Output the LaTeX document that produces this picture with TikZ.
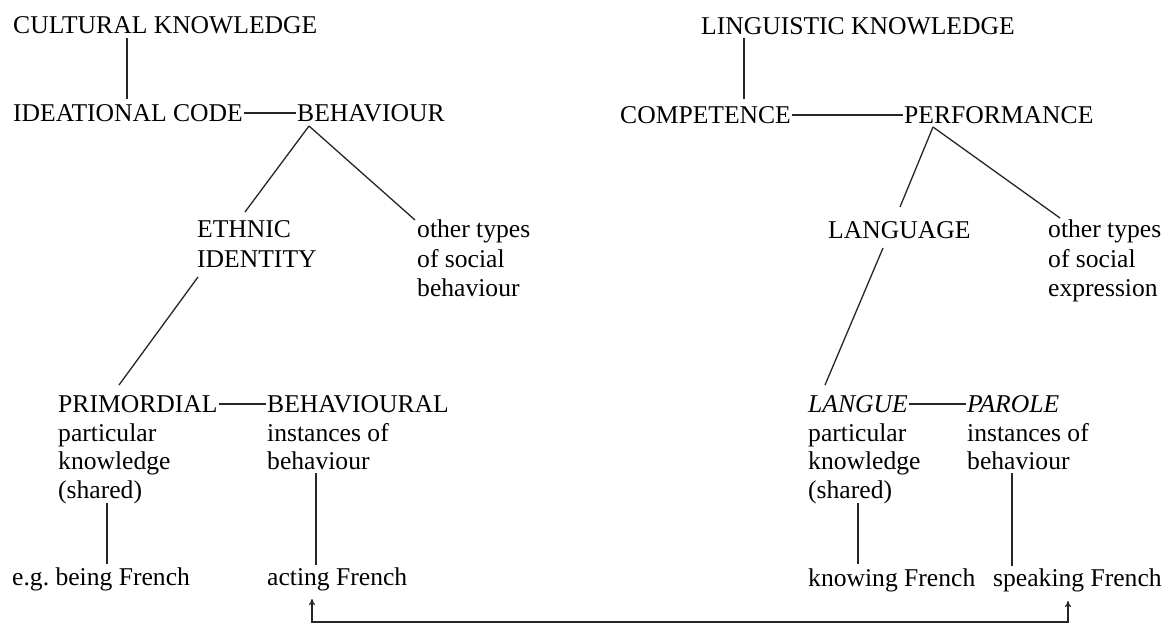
\documentclass[tikz,border=0pt]{standalone}
\usepackage{fontspec}
\setmainfont{Liberation Serif}
\usetikzlibrary{arrows.meta,calc}
\begin{document}
\begin{tikzpicture}[x=1pt,y=-1pt,
  lbl/.style={anchor=base west,inner sep=0pt,font=\fontsize{25.6}{30}\selectfont},
  ln/.style={line width=1.3pt,draw=black!85},
  arr/.style={line width=1.2pt,draw=black!85,{To[length=6pt,width=6pt]}-{To[length=6pt,width=6pt]}}]
\useasboundingbox (0,0) rectangle (1167,626);
\fill[white] (0,0) rectangle (1167,626);
% ---------- left tree ----------
\node[lbl] (ck) at (13,34) {CULTURAL KNOWLEDGE};
\node[lbl] (ic) at (13,121) {IDEATIONAL CODE};
\node[lbl] (beh) at (297,121) {BEHAVIOUR};
\node[lbl] (eth1) at (197,237) {ETHNIC};
\node[lbl] (eth2) at (197,267) {IDENTITY};
\node[lbl] (ot1) at (417,237) {other types};
\node[lbl] (ot2) at (417,267) {of social};
\node[lbl] (ot3) at (417,296) {behaviour};
\node[lbl] (pri) at (58,412) {PRIMORDIAL};
\node[lbl] (pk1) at (58,441) {particular};
\node[lbl] (pk2) at (58,469) {knowledge};
\node[lbl] (pk3) at (58,498) {(shared)};
\node[lbl] (bhl) at (267,412) {BEHAVIOURAL};
\node[lbl] (bi1) at (267,441) {instances of};
\node[lbl] (bi2) at (267,469) {behaviour};
\node[lbl] (eg) at (12,585) {e.g.\ being French};
\node[lbl] (act) at (267,585) {acting French};
% ---------- right tree ----------
\node[lbl] (lk) at (701,35) {LINGUISTIC KNOWLEDGE};
\node[lbl] (comp) at (620,123) {COMPETENCE};
\node[lbl] (perf) at (904,123) {PERFORMANCE};
\node[lbl] (lang) at (828,238) {LANGUAGE};
\node[lbl] (os1) at (1048,237) {other types};
\node[lbl] (os2) at (1048,267) {of social};
\node[lbl] (os3) at (1048,296) {expression};
\node[lbl] (lg) at (808,412) {\textit{LANGUE}};
\node[lbl] (lp1) at (808,441) {particular};
\node[lbl] (lp2) at (808,469) {knowledge};
\node[lbl] (lp3) at (808,498) {(shared)};
\node[lbl] (par) at (967,412) {\textit{PAROLE}};
\node[lbl] (pi1) at (967,441) {instances of};
\node[lbl] (pi2) at (967,469) {behaviour};
\node[lbl] (kf) at (808,586) {knowing French};
\node[lbl] (sf) at (993,586) {speaking French};
% ---------- connector end points ----------
\coordinate (ckB) at (127,38);   \coordinate (icT) at (127,99);
\coordinate (behA) at (309,126); \coordinate (ethT) at (245,212);
\coordinate (otT) at (415,220);
\coordinate (ethB) at (198,277); \coordinate (priT) at (119,385);
\coordinate (pkB) at (107,503);  \coordinate (egT) at (107,564);
\coordinate (biB) at (316,473);  \coordinate (actT) at (316,565);
\coordinate (lkB) at (744,38);   \coordinate (compT) at (744,99);
\coordinate (perfA) at (933,127); \coordinate (langT) at (900,207);
\coordinate (osT) at (1060,218);
\coordinate (langB) at (883,248); \coordinate (lgT) at (825,385);
\coordinate (lpB) at (858,503);  \coordinate (kfT) at (858,564);
\coordinate (piB) at (1012,473); \coordinate (sfT) at (1012,566);
\coordinate (actA) at (312,599); \coordinate (sfA) at (1068,601);
\coordinate (c1) at (312,622);   \coordinate (c2) at (1068,622);
% ---------- connectors ----------
\draw[ln] (ckB) -- (icT);
\draw[ln] ($(ic.base east)+(1,-8)$) -- ($(beh.base west)+(-1,-8)$);
\draw[ln] (behA) -- (ethT);
\draw[ln] (behA) -- (otT);
\draw[ln] (ethB) -- (priT);
\draw[ln] ($(pri.base east)+(1,-8)$) -- ($(bhl.base west)+(-1,-8)$);
\draw[ln] (pkB) -- (egT);
\draw[ln] (biB) -- (actT);
\draw[ln] (lkB) -- (compT);
\draw[ln] ($(comp.base east)+(1,-8)$) -- ($(perf.base west)+(-1,-8)$);
\draw[ln] (perfA) -- (langT);
\draw[ln] (perfA) -- (osT);
\draw[ln] (langB) -- (lgT);
\draw[ln] ($(lg.base east)+(1,-8)$) -- ($(par.base west)+(-1,-8)$);
\draw[ln] (lpB) -- (kfT);
\draw[ln] (piB) -- (sfT);
\draw[arr] (actA) -- (c1) -- (c2) -- (sfA);
\end{tikzpicture}
\end{document}
